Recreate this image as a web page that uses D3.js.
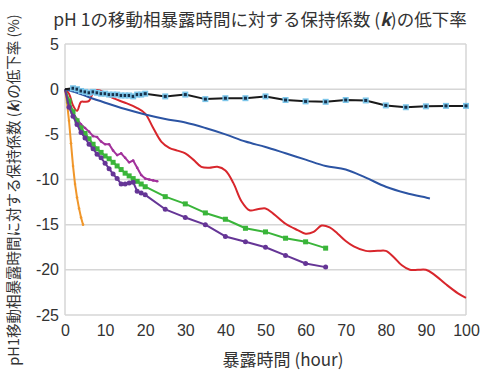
<!DOCTYPE html>
<html lang="ja">
  <head>
    <meta charset="UTF-8" />
    <title>pH 1 保持係数の低下率</title>
    <script src="https://d3js.org/d3.v7.min.js"></script>
    <style>
      body {
        margin: 0;
        background: #fff;
        font-family: "Noto Sans CJK JP", "Noto Sans", sans-serif;
      }
      .tick text {
        fill: #333;
        font-size: 16px;
      }
    </style>
  </head>
  <body>
    <script>
      // data
      const blackX = [0, 2, 3, 4, 5, 6, 7, 8, 9, 10, 11, 12, 13, 14, 15, 16, 17, 18, 19, 20, 25, 30, 35, 40, 45, 50, 55, 60, 65, 70, 75, 80, 85, 90, 95, 100];
      const blackY = [0, 0.1, 0.0, -0.2, -0.3, -0.4, -0.3, -0.4, -0.5, -0.5, -0.6, -0.6, -0.6, -0.7, -0.7, -0.7, -0.8, -0.6, -0.6, -0.5, -0.8, -0.6, -1.1, -1.0, -1.0, -0.8, -1.2, -1.35, -1.4, -1.2, -1.25, -1.8, -2.0, -1.9, -1.85, -1.85];

      const blueX = [0, 3, 6, 10, 15, 20, 25, 30, 35, 40, 45, 50, 55, 60, 65, 70, 75, 80, 85, 90, 91];
      const blueY = [0, -0.4, -0.9, -1.5, -2.2, -2.8, -3.3, -3.7, -4.3, -5.0, -5.8, -6.4, -7.1, -7.8, -8.5, -8.9, -9.8, -10.8, -11.5, -12.0, -12.1];

      const redX = [0, 1, 2, 3, 4, 5, 6, 7, 8, 9, 10, 12, 15, 18, 20, 22, 24, 26, 28, 30, 32, 34, 36, 38, 40, 42, 44, 46, 48, 50, 52, 55, 58, 60, 62, 64, 66, 68, 70, 72, 75, 78, 80, 82, 84, 86, 88, 90, 92, 95, 98, 100];
      const redY = [0, -0.5, -1.8, -2.4, -1.4, -1.4, -1.3, -0.4, -0.1, -0.2, -0.5, -1.0, -1.5, -2.1, -2.7, -4.3, -5.8, -6.5, -6.8, -7.1, -7.8, -8.6, -8.7, -8.6, -9.0, -10.4, -12.4, -13.4, -13.3, -13.2, -13.8, -14.9, -15.6, -16.0, -15.8, -15.1, -15.3, -16.0, -16.8, -17.4, -17.9, -17.9, -17.9, -18.6, -19.5, -20.0, -20.0, -20.0, -20.5, -21.6, -22.6, -23.1];

      const orangeX = [0, 0.5, 1, 1.5, 2, 2.5, 3, 3.5, 4, 4.5];
      const orangeY = [0, -1.5, -3.5, -6.0, -8.5, -10.5, -12.0, -13.2, -14.2, -15.0];

      const magentaX = [0, 1, 2, 3, 4, 5, 6, 7, 8, 9, 10, 11, 12, 13, 14, 15, 16, 17, 18, 19, 20, 21, 22, 23];
      const magentaY = [0, -1.4, -2.7, -3.3, -3.9, -4.3, -4.7, -5.2, -5.3, -5.8, -6.1, -6.1, -6.8, -7.3, -7.1, -7.6, -8.1, -7.9, -8.7, -9.5, -9.9, -10.0, -10.1, -10.2];

      const greenX = [0, 1, 2, 3, 4, 5, 6, 7, 8, 9, 10, 11, 12, 13, 14, 15, 16, 17, 18, 19, 20, 25, 30, 35, 40, 45, 50, 55, 60, 65];
      const greenY = [0, -1.3, -2.5, -3.5, -4.3, -4.9, -5.5, -6.1, -6.6, -7.0, -7.4, -7.7, -8.1, -8.5, -8.9, -9.3, -9.6, -9.9, -10.2, -10.5, -10.8, -11.9, -12.7, -13.7, -14.4, -15.4, -15.8, -16.5, -16.9, -17.6];

      const purpleX = [0, 1, 2, 3, 4, 5, 6, 7, 8, 9, 10, 11, 12, 13, 14, 15, 16, 17, 18, 19, 20, 25, 30, 35, 40, 45, 50, 55, 60, 65];
      const purpleY = [0, -2.0, -3.0, -3.9, -4.8, -5.4, -6.1, -6.6, -7.2, -7.6, -8.2, -8.8, -9.4, -9.9, -10.5, -10.5, -10.4, -10.3, -11.3, -11.5, -11.7, -13.3, -14.2, -15.0, -16.3, -16.9, -17.5, -18.4, -19.3, -19.7];

      const xTicks = [0, 10, 20, 30, 40, 50, 60, 70, 80, 90, 100];
      const yTicks = [5, 0, -5, -10, -15, -20, -25];

      const width = 500;
      const height = 380;
      const margin = { top: 44, right: 34, bottom: 65, left: 65 };

      const svg = d3
        .select("body")
        .append("svg")
        .attr("width", width)
        .attr("height", height);

      const x = d3.scaleLinear().domain([0, 100]).range([margin.left, width - margin.right]);
      const y = d3.scaleLinear().domain([-25, 5]).range([height - margin.bottom, margin.top]);

      // gridlines
      svg
        .append("g")
        .selectAll("line")
        .data(yTicks)
        .join("line")
        .attr("x1", x(0))
        .attr("x2", x(100))
        .attr("y1", (d) => y(d))
        .attr("y2", (d) => y(d))
        .attr("stroke", "#d6d6d6")
        .attr("stroke-width", 1.5);

      // left / right frame
      [0, 100].forEach((v) => {
        svg
          .append("line")
          .attr("x1", x(v))
          .attr("x2", x(v))
          .attr("y1", y(5))
          .attr("y2", y(-25))
          .attr("stroke", "#d6d6d6")
          .attr("stroke-width", 1.5);
      });

      // axes (labels only)
      const xAxis = svg
        .append("g")
        .attr("transform", `translate(0,${y(-25)})`)
        .call(d3.axisBottom(x).tickValues(xTicks).tickSize(0).tickPadding(10));
      xAxis.select(".domain").remove();

      const yAxis = svg
        .append("g")
        .attr("transform", `translate(${x(0)},0)`)
        .call(d3.axisLeft(y).tickValues(yTicks).tickSize(0).tickPadding(6).tickFormat(d3.format("d")));
      yAxis.select(".domain").remove();
      yAxis.selectAll("text").text((d) => (d < 0 ? "-" + Math.abs(d) : d));

      // series
      const series = [
        { xs: redX, ys: redY, color: "#d8262c", curve: d3.curveCatmullRom.alpha(0.5), marker: null },
        { xs: blueX, ys: blueY, color: "#2c54a3", curve: d3.curveCatmullRom.alpha(0.5), marker: null },
        { xs: orangeX, ys: orangeY, color: "#f0962a", curve: d3.curveLinear, marker: "dot", r: 1.3 },
        { xs: magentaX, ys: magentaY, color: "#a2319b", curve: d3.curveLinear, marker: "dot", r: 1.3 },
        { xs: greenX, ys: greenY, color: "#3ab53a", curve: d3.curveLinear, marker: "square", r: 2.5 },
        { xs: purpleX, ys: purpleY, color: "#653596", curve: d3.curveLinear, marker: "dot", r: 2.5 },
        { xs: blackX, ys: blackY, color: "#1a1a1a", curve: d3.curveLinear, marker: "black" },
      ];

      series.forEach((s) => {
        const pts = s.xs.map((v, i) => [v, s.ys[i]]);
        const line = d3
          .line()
          .x((d) => x(d[0]))
          .y((d) => y(d[1]))
          .curve(s.curve);

        svg
          .append("path")
          .datum(pts)
          .attr("fill", "none")
          .attr("stroke", s.color)
          .attr("stroke-width", 2)
          .attr("stroke-linejoin", "round")
          .attr("d", line);

        if (s.marker === "dot") {
          svg
            .append("g")
            .selectAll("circle")
            .data(pts.slice(1))
            .join("circle")
            .attr("cx", (d) => x(d[0]))
            .attr("cy", (d) => y(d[1]))
            .attr("r", s.r)
            .attr("fill", s.color);
        } else if (s.marker === "square") {
          svg
            .append("g")
            .selectAll("rect")
            .data(pts.slice(1))
            .join("rect")
            .attr("x", (d) => x(d[0]) - s.r)
            .attr("y", (d) => y(d[1]) - s.r)
            .attr("width", s.r * 2)
            .attr("height", s.r * 2)
            .attr("fill", s.color);
        } else if (s.marker === "black") {
          const g = svg.append("g").selectAll("g").data(pts.slice(1)).join("g");
          g.append("rect")
            .attr("x", (d) => x(d[0]) - 3)
            .attr("y", (d) => y(d[1]) - 3)
            .attr("width", 6)
            .attr("height", 6)
            .attr("fill", "#7cc6ea");
          g.append("rect")
            .attr("x", (d) => x(d[0]) - 1.5)
            .attr("y", (d) => y(d[1]) - 1.5)
            .attr("width", 3)
            .attr("height", 3)
            .attr("fill", "#17324d");
        }
      });

      // title
      const title = svg
        .append("text")
        .attr("x", 260)
        .attr("y", 26)
        .attr("text-anchor", "middle")
        .attr("font-size", 17.5)
        .attr("fill", "#333");
      title.append("tspan").text("pH 1の移動相暴露時間に対する保持係数 (");
      title.append("tspan").attr("font-weight", "bold").attr("font-style", "italic").text("k");
      title.append("tspan").text(")の低下率");

      // x label
      svg
        .append("text")
        .attr("x", 283)
        .attr("y", 366)
        .attr("text-anchor", "middle")
        .attr("font-size", 17)
        .attr("fill", "#333")
        .text("暴露時間 (hour)");

      // y label
      const ylab = svg
        .append("text")
        .attr("transform", "translate(19,190) rotate(-90)")
        .attr("text-anchor", "middle")
        .attr("font-size", 14.5)
        .attr("fill", "#333");
      ylab.append("tspan").text("pH1移動相暴露時間に対する保持係数 (");
      ylab.append("tspan").attr("font-weight", "bold").attr("font-style", "italic").text("k");
      ylab.append("tspan").text(")の低下率 (%)");
    </script>
  </body>
</html>
